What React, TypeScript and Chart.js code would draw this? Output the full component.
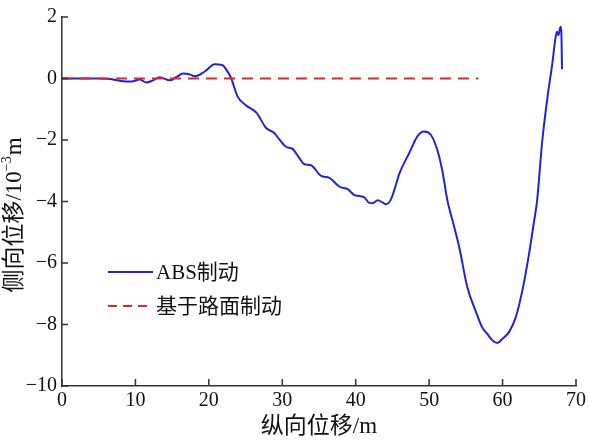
import React, { useEffect, useRef } from "react";
import { Chart, registerables } from "chart.js";

Chart.register(...registerables);

const absX = [0, 5, 6.5, 8, 9.5, 10.6, 11.5, 12.4, 13.3, 14.7, 15.6, 16.5, 17.3, 18.1, 19.4, 20.8, 21.8, 22.4, 23.05, 23.9, 25.1, 26.5, 27.8, 28.9, 29.6, 30.5, 31.4, 32.3, 33.0, 33.9, 35.3, 36.4, 37.8, 38.9, 39.8, 40.5, 41.2, 41.8, 42.3, 43.0, 43.7, 44.1, 44.8, 45.5, 45.9, 47.3, 48.4, 49.3, 50.2, 51.1, 51.8, 52.5, 53.2, 54.1, 55.2, 56.3, 57.2, 57.9, 58.6, 59.3, 60.0, 60.9, 61.8, 62.7, 63.6, 64.3, 64.7, 65.4, 66.1, 66.75, 67.2, 67.4, 67.6, 67.9, 68.0, 68.1];
const absY = [0, 0, -0.02, -0.08, -0.1, -0.03, -0.13, -0.06, 0.04, -0.06, 0.05, 0.16, 0.14, 0.07, 0.22, 0.46, 0.44, 0.28, 0, -0.58, -0.88, -1.12, -1.61, -1.77, -1.98, -2.22, -2.29, -2.58, -2.79, -2.82, -3.17, -3.23, -3.52, -3.6, -3.79, -3.82, -3.87, -4.04, -4.06, -3.96, -4.04, -4.09, -3.93, -3.44, -3.12, -2.42, -1.88, -1.72, -1.82, -2.31, -3.01, -3.98, -4.63, -5.49, -6.79, -7.54, -8.08, -8.3, -8.51, -8.6, -8.46, -8.24, -7.76, -6.89, -5.71, -4.63, -3.98, -2.04, -0.64, 0.44, 1.3, 1.52, 1.41, 1.68, 1.52, 0.3];

const roadX = [0, 56.7];
const roadY = [0, 0];

const xTicks = [0, 10, 20, 30, 40, 50, 60, 70];
const yTicks = [2, 0, -2, -4, -6, -8, -10];

const seriesNames = ["ABS制动", "基于路面制动"];
const xTitle = "纵向位移/m";
const yTitleMain = "侧向位移/10";
const yTitleSup = "\u22123";
const yTitleUnit = "m";

const BLUE = "#2222dd";
const RED = "#e8222a";
const SERIF = '"Liberation Serif", "Noto Sans CJK SC", serif';

const fmt = (v: number) => (v < 0 ? "\u2212" + Math.abs(v) : String(v));

const tickPlugin = {
  id: "inwardTicks",
  afterDraw(chart: any) {
    const ctx = chart.ctx;
    const { left, bottom } = chart.chartArea;
    const xs = chart.scales.x;
    const ys = chart.scales.y;
    ctx.save();
    ctx.strokeStyle = "#333";
    ctx.lineWidth = 1.5;
    ctx.beginPath();
    xTicks.forEach((t) => {
      const px = xs.getPixelForValue(t);
      ctx.moveTo(px, bottom);
      ctx.lineTo(px, bottom - 7);
    });
    yTicks.forEach((t) => {
      const py = ys.getPixelForValue(t);
      ctx.moveTo(left, py);
      ctx.lineTo(left + 6, py);
    });
    ctx.stroke();
    ctx.restore();
  },
};

const titlePlugin = {
  id: "axisTitles",
  afterDraw(chart: any) {
    const ctx = chart.ctx;
    const { left, right } = chart.chartArea;
    ctx.save();
    ctx.fillStyle = "#111";
    ctx.textBaseline = "middle";
    // x title
    ctx.font = "23px " + SERIF;
    ctx.textAlign = "center";
    ctx.fillText(xTitle, (left + right) / 2, 427);
    // y title
    ctx.translate(15, 215);
    ctx.rotate(-Math.PI / 2);
    ctx.textAlign = "left";
    const mainFont = "23px " + SERIF;
    const supFont = "14px " + SERIF;
    ctx.font = mainFont;
    const w1 = ctx.measureText(yTitleMain).width;
    const w3 = ctx.measureText(yTitleUnit).width;
    ctx.font = supFont;
    const w2 = ctx.measureText(yTitleSup).width;
    const total = w1 + w2 + w3 + 1;
    let x = -total / 2;
    ctx.font = mainFont;
    ctx.fillText(yTitleMain, x, 0);
    x += w1;
    ctx.font = supFont;
    ctx.fillText(yTitleSup, x, -8);
    x += w2 + 1;
    ctx.font = mainFont;
    ctx.fillText(yTitleUnit, x, 0);
    ctx.restore();
  },
};

const legendPlugin = {
  id: "innerLegend",
  afterDraw(chart: any) {
    const ctx = chart.ctx;
    const { left, top } = chart.chartArea;
    const x0 = left + 46;
    const rows = [
      { y: top + 255, color: BLUE, dash: [] as number[], label: seriesNames[0] },
      { y: top + 289, color: RED, dash: [9, 6], label: seriesNames[1] },
    ];
    ctx.save();
    rows.forEach((r) => {
      ctx.strokeStyle = r.color;
      ctx.lineWidth = 2;
      ctx.setLineDash(r.dash);
      ctx.beginPath();
      ctx.moveTo(x0, r.y);
      ctx.lineTo(x0 + 45, r.y);
      ctx.stroke();
      ctx.setLineDash([]);
      ctx.fillStyle = "#111";
      ctx.font = "21px " + SERIF;
      ctx.textBaseline = "middle";
      ctx.textAlign = "left";
      ctx.fillText(r.label, x0 + 48, r.y + 1);
    });
    ctx.restore();
  },
};

export default function App() {
  const ref = useRef<HTMLCanvasElement | null>(null);
  useEffect(() => {
    if (!ref.current) return;
    const chart = new Chart(ref.current, {
      type: "line",
      data: {
        datasets: [
          {
            label: seriesNames[1],
            data: roadX.map((x, i) => ({ x, y: roadY[i] })),
            borderColor: RED,
            borderWidth: 2,
            borderDash: [11, 7],
            pointRadius: 0,
            fill: false,
            order: 0,
          },
          {
            label: seriesNames[0],
            data: absX.map((x, i) => ({ x, y: absY[i] })),
            borderColor: BLUE,
            borderWidth: 2,
            pointRadius: 0,
            cubicInterpolationMode: "monotone",
            fill: false,
            order: 1,
          },
        ],
      },
      options: {
        responsive: false,
        animation: false,
        layout: { padding: { top: 15, right: 11.5, left: 0, bottom: 0 } },
        plugins: { legend: { display: false }, tooltip: { enabled: false } },
        scales: {
          x: {
            type: "linear",
            min: 0,
            max: 70,
            afterFit: (s: any) => {
              s.height = 56;
            },
            afterBuildTicks: (s: any) => {
              s.ticks = xTicks.map((v) => ({ value: v }));
            },
            ticks: {
              callback: (v: any) => fmt(Number(v)),
              color: "#111",
              font: { family: SERIF, size: 20 },
              padding: 3,
              maxRotation: 0,
            },
            grid: { display: false, drawTicks: false },
            border: { display: true, color: "#333", width: 1.5 },
            title: { display: false },
          },
          y: {
            type: "linear",
            min: -10,
            max: 2,
            afterFit: (s: any) => {
              s.width = 62;
            },
            afterBuildTicks: (s: any) => {
              s.ticks = yTicks.map((v) => ({ value: v }));
            },
            ticks: {
              callback: (v: any) => fmt(Number(v)),
              color: "#111",
              font: { family: SERIF, size: 20 },
              padding: 5,
            },
            grid: { display: false, drawTicks: false },
            border: { display: true, color: "#333", width: 1.5 },
            title: { display: false },
          },
        },
      },
      plugins: [tickPlugin, titlePlugin, legendPlugin],
    } as any);
    return () => chart.destroy();
  }, []);
  return (
    <div style={{ position: "absolute", left: 0, top: 0, width: 589, height: 442, background: "#fff" }}>
      <canvas ref={ref} width={589} height={442} style={{ display: "block" }} />
    </div>
  );
}
